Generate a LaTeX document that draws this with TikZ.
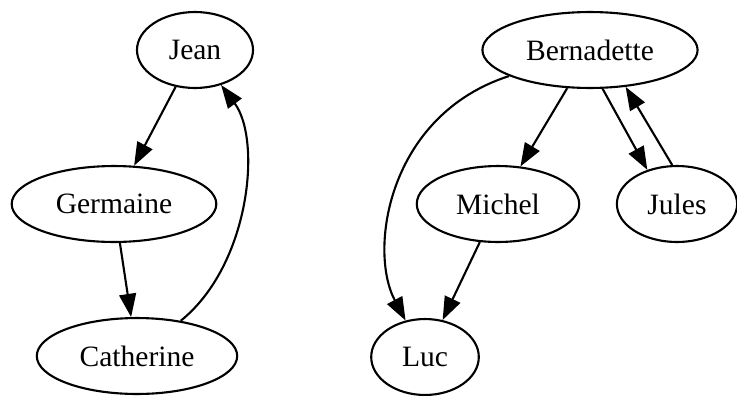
\documentclass[tikz,border=0pt]{standalone}
\usepackage{fontspec}
\setmainfont{Liberation Serif}
\usetikzlibrary{arrows.meta,shapes.geometric,positioning}

\begin{document}
\begin{tikzpicture}[x=0.474pt,y=-0.474pt,font=\fontsize{14}{16}\selectfont]
\tikzstyle{person}=[ellipse,draw=black,line width=1pt,inner sep=0pt,minimum height=36pt]
\tikzstyle{followed}=[-{Triangle[length=11pt,width=8pt]},line width=1pt]

\useasboundingbox (0,0) rectangle (737,395);

% left family
\node[person,minimum width=55pt] (jean) at (195,50) {Jean};
\node[person,minimum width=97pt] (germaine) at (114,204) {Germaine};
\node[person,minimum width=95pt] (catherine) at (137,356) {Catherine};

% right family
\node[person,minimum width=102pt] (bernadette) at (590,50) {Bernadette};
\node[person,minimum width=77pt] (michel) at (498,204) {Michel};
\node[person,minimum width=57pt] (jules) at (677,204) {Jules};
\node[person,minimum width=51pt] (luc) at (425,357) {Luc};

\path
  	(jean) edge [followed] (germaine)
  	(germaine) edge [followed] (catherine)
  	(bernadette) edge [followed] (michel)
  	(michel) edge [followed] (luc)
  	(bernadette.-72) edge [followed] (jules.131)
  	(jules.97) edge [followed] (bernadette.-46);

\draw[followed] (catherine) .. controls (250,265) and (262,140) .. (jean);
\draw[followed] (bernadette) .. controls (388,115) and (368,250) .. (luc);
\end{tikzpicture}
\end{document}
